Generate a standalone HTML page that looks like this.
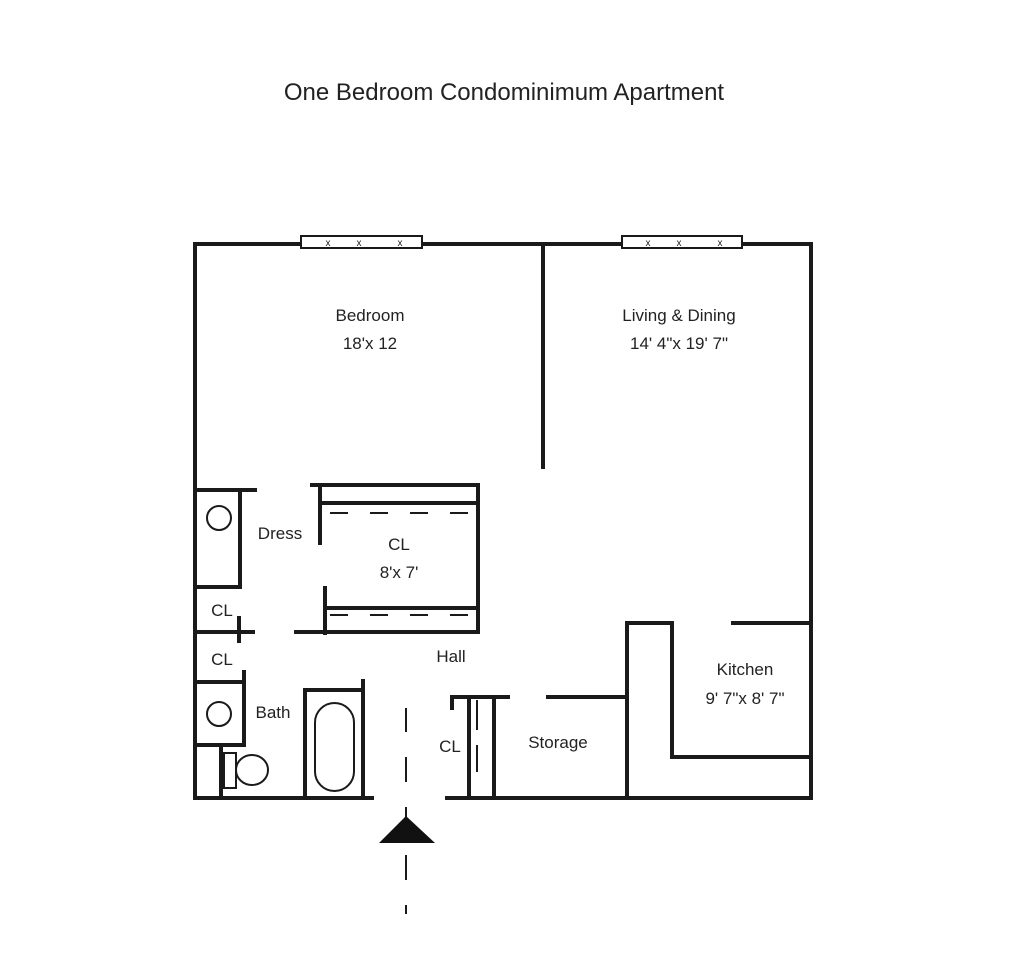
<!DOCTYPE html>
<html><head><meta charset="utf-8"><style>
body{margin:0;background:#fff;}
svg{display:block}
text{font-family:"Liberation Sans",sans-serif;fill:#222;}
</style></head><body>
<svg width="1024" height="972" viewBox="0 0 1024 972" xmlns="http://www.w3.org/2000/svg">
<text x="504" y="100" font-size="24" text-anchor="middle">One Bedroom Condominimum Apartment</text>
<g stroke="#1a1a1a" stroke-width="4" fill="none" stroke-linecap="square">
<polyline points="300,244 195,244 195,798 372,798"/>
<line x1="422" y1="244" x2="621" y2="244"/>
<polyline points="742,244 811,244 811,798 447,798"/>
<line x1="543" y1="244" x2="543" y2="467"/>
<polyline points="312,485 478,485 478,632 296,632"/>
<line x1="320" y1="485" x2="320" y2="543"/>
<line x1="320" y1="503" x2="478" y2="503"/>
<line x1="325" y1="588" x2="325" y2="633"/>
<line x1="325" y1="608" x2="478" y2="608"/>
<polyline points="197,490 255,490"/>
<polyline points="240,490 240,587 197,587"/>
<line x1="197" y1="632" x2="253" y2="632"/>
<line x1="239" y1="618" x2="239" y2="641"/>
<polyline points="197,682 244,682"/>
<polyline points="244,672 244,745 197,745"/>
<line x1="221" y1="745" x2="221" y2="798"/>
<polyline points="305,798 305,690 363,690"/>
<line x1="363" y1="681" x2="363" y2="798"/>
<polyline points="452,708 452,697 508,697"/>
<line x1="469" y1="697" x2="469" y2="798"/>
<line x1="494" y1="697" x2="494" y2="798"/>
<line x1="548" y1="697" x2="627" y2="697"/>
<polyline points="627,798 627,623 672,623 672,757 811,757"/>
<line x1="733" y1="623" x2="811" y2="623"/>
</g>
<g stroke="#1a1a1a" stroke-width="2" fill="#fff">
<rect x="301" y="236" width="121" height="12"/>
<rect x="622" y="236" width="120" height="12"/>
<circle cx="219" cy="518" r="12"/>
<circle cx="219" cy="714" r="12"/>
<rect x="224" y="753" width="12" height="35"/>
<ellipse cx="252" cy="770" rx="16" ry="15"/>
<rect x="315" y="703" width="39" height="88" rx="19.5"/>
</g>
<g stroke="#1a1a1a" stroke-width="2" fill="none">
<line x1="330" y1="513" x2="478" y2="513" stroke-dasharray="18,22"/>
<line x1="330" y1="615" x2="478" y2="615" stroke-dasharray="18,22"/>
<line x1="477" y1="700" x2="477" y2="730"/>
<line x1="477" y1="745" x2="477" y2="772"/>
<line x1="406" y1="708" x2="406" y2="732"/>
<line x1="406" y1="757" x2="406" y2="782"/>
<line x1="406" y1="807" x2="406" y2="818"/>
<line x1="406" y1="855" x2="406" y2="880"/>
<line x1="406" y1="905" x2="406" y2="914"/>
</g>
<polygon points="406,816 379,843 435,843" fill="#111"/>
<g font-size="10" fill="#444" text-anchor="middle">
<text x="328" y="246">x</text><text x="359" y="246">x</text><text x="400" y="246">x</text>
<text x="648" y="246">x</text><text x="679" y="246">x</text><text x="720" y="246">x</text>
</g>
<g font-size="17" text-anchor="middle">
<text x="370" y="321">Bedroom</text><text x="370" y="349">18'x 12</text>
<text x="679" y="321">Living &amp; Dining</text><text x="679" y="349">14' 4"x 19' 7"</text>
<text x="399" y="550">CL</text><text x="399" y="578">8'x 7'</text>
<text x="280" y="539">Dress</text>
<text x="222" y="616">CL</text>
<text x="222" y="665">CL</text>
<text x="451" y="662">Hall</text>
<text x="273" y="718">Bath</text>
<text x="450" y="752">CL</text>
<text x="558" y="748">Storage</text>
<text x="745" y="675">Kitchen</text><text x="745" y="704">9' 7"x 8' 7"</text>
</g>
</svg>
</body></html>
